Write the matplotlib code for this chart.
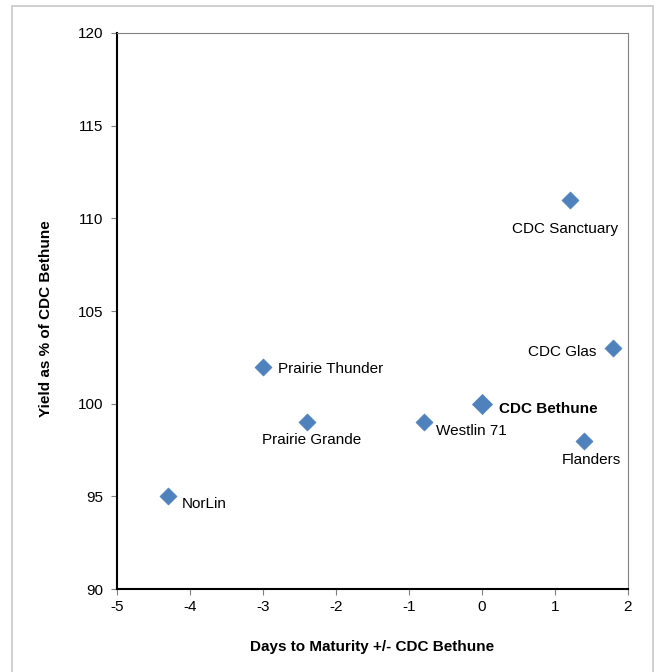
import matplotlib.pyplot as plt
from matplotlib.patches import Rectangle

plt.rcParams['font.family'] = ['Liberation Sans', 'DejaVu Sans']
plt.rcParams['axes.unicode_minus'] = False

names = ["NorLin", "Prairie Thunder", "Prairie Grande", "Westlin 71",
         "CDC Bethune", "CDC Sanctuary", "CDC Glas", "Flanders"]
days = [-4.3, -3.0, -2.4, -0.8, 0.0, 1.2, 1.8, 1.4]
yields = [95, 102, 99, 99, 100, 111, 103, 98]

# label offsets in points and alignment for each variety
offsets = [(10, -5.5), (11, -2), (3.5, -13), (9, -6.5), (12, -4), (-3, -21), (-12, -3), (5, -14)]
aligns = ["left", "left", "center", "left", "left", "center", "right", "center"]

blue = "#4F81BD"

fig = plt.figure(figsize=(6.56, 6.72), dpi=100)
fig.patches.append(Rectangle((12 / 656, -0.01), 641 / 656, 1 - 6 / 672 + 0.01,
                             transform=fig.transFigure, fill=False,
                             edgecolor="#c8c8c8", linewidth=1.2))
ax = fig.add_axes([117 / 656, 1 - 589 / 672, 511 / 656, 556 / 672])

for n, x, y, off, ha in zip(names, days, yields, offsets, aligns):
    bethune = n == "CDC Bethune"
    ax.scatter(x, y, marker="D", s=105 if bethune else 75, color=blue,
               edgecolors=blue, linewidths=0.5, zorder=3, clip_on=False)
    ax.annotate(n, (x, y), xytext=off, textcoords="offset points",
                ha=ha, va="center", fontsize=11,
                fontweight="bold" if bethune else "normal", color="black")

ax.set_xlim(-5, 2)
ax.set_ylim(90, 120)
ax.set_xticks(range(-5, 3))
ax.set_yticks(range(90, 121, 5))
ax.tick_params(direction="out", length=4, width=0.8, color="#808080",
               labelsize=11, pad=4)
ax.tick_params(axis="y", pad=6)

ax.spines["left"].set_color("black")
ax.spines["bottom"].set_color("black")
ax.spines["left"].set_linewidth(1.5)
ax.spines["bottom"].set_linewidth(1.5)
ax.spines["top"].set_color("#808080")
ax.spines["right"].set_color("#808080")

ax.set_xlabel("Days to Maturity +/- CDC Bethune", fontsize=11,
              fontweight="bold", labelpad=19)
ax.set_ylabel("Yield as % of CDC Bethune", fontsize=11,
              fontweight="bold", labelpad=18)
ax.yaxis.label.set_y(0.487)

fig.savefig("out.png", dpi=100)
